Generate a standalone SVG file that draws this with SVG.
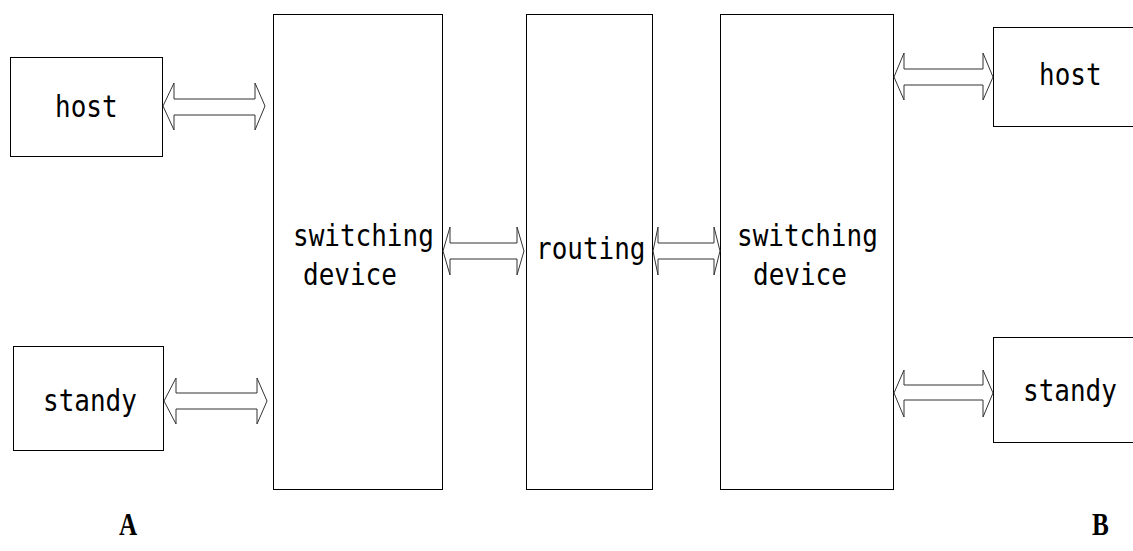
<svg xmlns="http://www.w3.org/2000/svg" width="1133" height="551" viewBox="0 0 1133 551">
<style>
.box{fill:#fff;stroke:#000;stroke-width:1}
.arr{fill:#fff;stroke:#333;stroke-width:1}
.t{font-family:"DejaVu Sans Mono","Liberation Mono",monospace;font-size:26px;fill:#000}
.lbl{font-family:"Liberation Serif",serif;font-weight:bold;font-size:28px;fill:#000}
</style>
<rect width="1133" height="551" fill="#fff"/>
<g id="hostA"><rect class="box" x="10.5" y="57.5" width="152" height="99"/><text class="t" transform="translate(55,117) scale(1,1.18)">host</text></g>
<g id="standyA"><rect class="box" x="13.5" y="346.5" width="150" height="104"/><text class="t" transform="translate(43,411) scale(1,1.18)">standy</text></g>
<g id="switchA"><rect class="box" x="273.5" y="14.5" width="169" height="475"/><text class="t" transform="translate(293,246) scale(1,1.18)">switching</text><text class="t" transform="translate(303,285) scale(1,1.18)">device</text></g>
<g id="routing"><rect class="box" x="526.5" y="14.5" width="126" height="475"/><text class="t" transform="translate(536,259) scale(1,1.18)">routing</text></g>
<g id="switchB"><rect class="box" x="720.5" y="14.5" width="173" height="475"/><text class="t" transform="translate(737,246) scale(1,1.18)">switching</text><text class="t" transform="translate(753,285) scale(1,1.18)">device</text></g>
<g id="hostB"><rect class="box" x="993.5" y="27.5" width="150" height="99"/><text class="t" transform="translate(1039,85) scale(1,1.18)">host</text></g>
<g id="standyB"><rect class="box" x="993.5" y="337.5" width="150" height="105"/><text class="t" transform="translate(1023,401) scale(1,1.18)">standy</text></g>
<g id="connectors">
<polygon class="arr" points="163,106 174,83 174,99 255,99 255,83 265,106 255,130 255,115 174,115 174,130"/>
<polygon class="arr" points="164,401 176,378 176,393 257,393 257,378 267,401 257,424 257,409 176,409 176,424"/>
<polygon class="arr" points="443,251 450,227 450,243 517,243 517,227 524,251 517,275 517,259 450,259 450,275"/>
<polygon class="arr" points="653,251 658,227 658,243 714,243 714,227 720,251 714,275 714,259 658,259 658,275"/>
<polygon class="arr" points="894,77 904,53 904,69 983,69 983,53 993,77 983,100 983,85 904,85 904,100"/>
<polygon class="arr" points="894,393 904,370 904,385 983,385 983,370 993,393 983,417 983,400 904,400 904,417"/>
</g>
<text class="lbl" transform="translate(119,535) scale(0.9,1.1)">A</text>
<text class="lbl" transform="translate(1092,535) scale(0.9,1.1)">B</text>
</svg>
